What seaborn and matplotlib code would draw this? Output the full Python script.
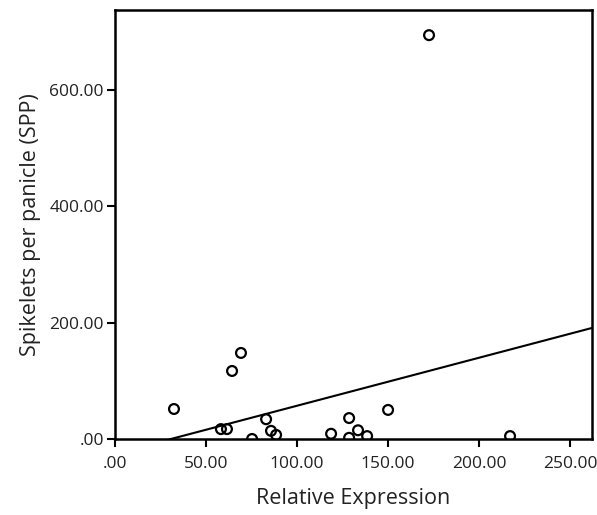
import numpy as np
import pandas as pd
import seaborn as sns
import matplotlib.pyplot as plt
from matplotlib.ticker import FuncFormatter

# values
relative_expression = [32.4, 172.5, 69.2, 64.3, 58.2, 61.5, 75.3, 83.0, 85.7, 88.5,
                       118.7, 128.6, 128.6, 133.5, 138.5, 150.0, 217.0]
spp = [51.6, 694.7, 148.0, 117.0, 17.0, 17.0, 0.0, 34.0, 14.0, 7.0,
       9.0, 2.0, 36.0, 15.0, 5.0, 50.0, 5.0]
fit_intercept = -25.4
fit_slope = 0.826
x_ticks = [0, 50, 100, 150, 200, 250]
y_ticks = [0, 200, 400, 600]


def spss_fmt(v, pos=None):
    s = f"{v:.2f}"
    return s[1:] if s.startswith("0.") else s


def draw_scatter(data, x, y, width=5.97, height=5.15, filename=None):
    sns.set_style('ticks')
    plt.rcParams['font.family'] = ['Open Sans', 'DejaVu Sans']
    fig = plt.figure(figsize=(width, height), dpi=100)
    ax = fig.add_axes([0.1926, 0.1476, 0.799, 0.833])
    sns.scatterplot(data=data, x=x, y=y, ax=ax, marker='o', s=50,
                    facecolor='none', edgecolor='black', linewidth=1.6, zorder=3)
    xs = np.array([0, 262])
    ax.plot(xs, fit_intercept + fit_slope * xs, color='black', linewidth=1.5, zorder=2)
    ax.set_xlim(0, 262)
    ax.set_ylim(0, 738)
    ax.set_xticks(x_ticks)
    ax.set_yticks(y_ticks)
    ax.xaxis.set_major_formatter(FuncFormatter(spss_fmt))
    ax.yaxis.set_major_formatter(FuncFormatter(spss_fmt))
    for sp in ax.spines.values():
        sp.set_visible(True)
        sp.set_linewidth(1.8)
        sp.set_edgecolor('black')
    ax.tick_params(direction='out', length=6, width=1.5, labelsize=12.5, colors='black',
                   labelcolor='#222222')
    ax.tick_params(axis='x', pad=6)
    ax.tick_params(axis='y', pad=2)
    ax.set_xlabel('Relative Expression', fontsize=15.5, labelpad=12, color='#222222')
    ax.set_ylabel('Spikelets per panicle (SPP)', fontsize=15.5, labelpad=6, color='#222222')
    if filename is None:
        return fig
    fig.savefig(filename, dpi=100)
    plt.close()


df = pd.DataFrame({'Relative Expression': relative_expression,
                   'Spikelets per panicle (SPP)': spp})
draw_scatter(df, 'Relative Expression', 'Spikelets per panicle (SPP)', filename='out.png')
